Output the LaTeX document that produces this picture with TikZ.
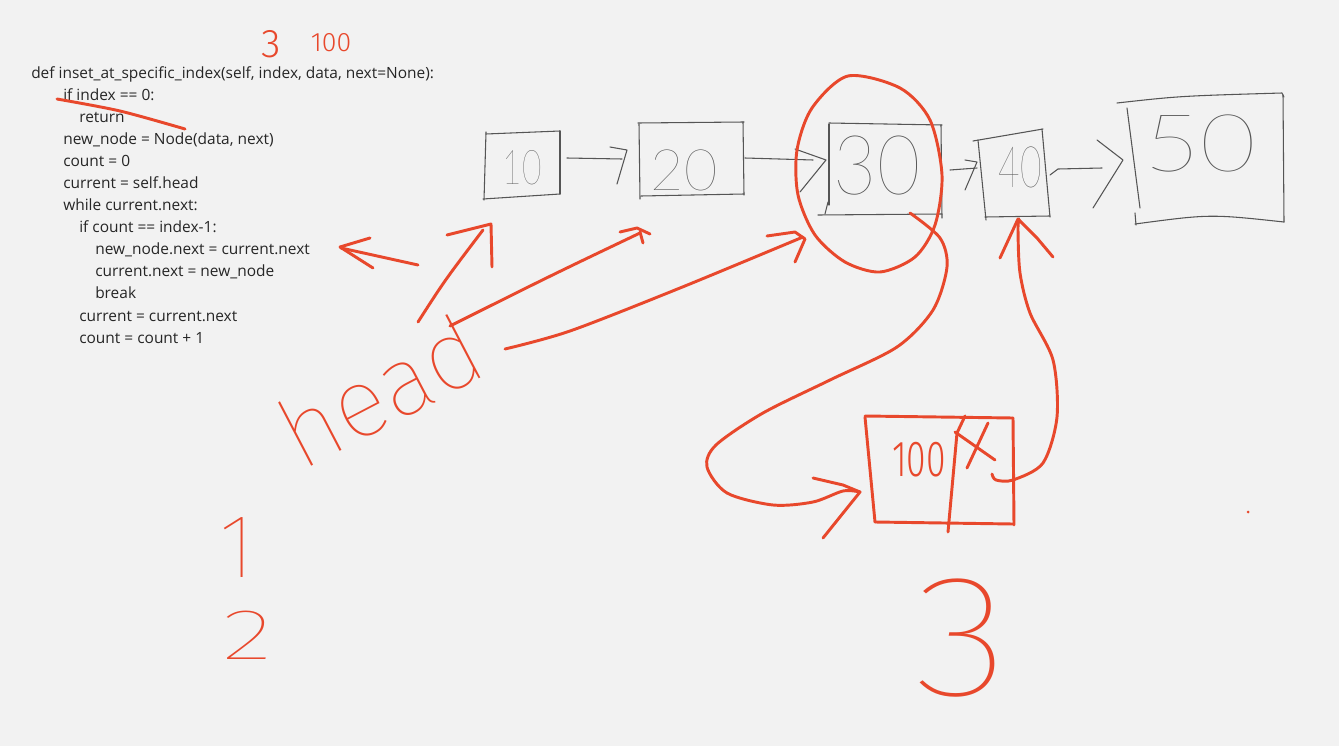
\documentclass[tikz,border=0pt]{standalone}
\usepackage{graphicx}
\usepackage{fontspec}
\setmainfont{Open Sans}
\IfFontExistsTF{Fira Sans Hair}{\newfontfamily\fhair{Fira Sans Hair}}{%
 \IfFontExistsTF{Lato Hairline}{\newfontfamily\fhair{Lato Hairline}}{%
  \IfFontExistsTF{Fira Sans Thin}{\newfontfamily\fhair{Fira Sans Thin}}{%
   \IfFontExistsTF{Lato Thin}{\newfontfamily\fhair{Lato Thin}}{%
    \IfFontExistsTF{Lato Light}{\newfontfamily\fhair{Lato Light}}{%
     \newfontfamily\fhair{Fira Sans}}}}}}
\IfFontExistsTF{Fira Sans Thin}{\newfontfamily\fthin{Fira Sans Thin}}{%
 \IfFontExistsTF{Lato Thin}{\newfontfamily\fthin{Lato Thin}}{%
  \IfFontExistsTF{Lato Hairline}{\newfontfamily\fthin{Lato Hairline}}{%
   \IfFontExistsTF{Lato Light}{\newfontfamily\fthin{Lato Light}}{%
    \newfontfamily\fthin{Fira Sans}}}}}
\IfFontExistsTF{Fira Sans Light}{\newfontfamily\flight{Fira Sans Light}}{%
 \IfFontExistsTF{Lato Light}{\newfontfamily\flight{Lato Light}}{%
  \newfontfamily\flight{Fira Sans}}}
\definecolor{pen}{HTML}{E8482C}
\definecolor{pencil}{HTML}{555555}
\definecolor{bgpaper}{HTML}{F2F2F2}
\definecolor{ink}{HTML}{262626}
\tikzset{
  redstroke/.style={draw=pen, line width=2.2pt, line cap=round, line join=round},
  graystroke/.style={draw=pencil, line width=0.8pt, line cap=round, line join=round},
  codeline/.style={anchor=base west, inner sep=0pt, text=ink, font=\fontsize{11.6}{13}\selectfont},
  graytext/.style={inner sep=0pt, text=pencil},
  redtext/.style={inner sep=0pt, text=pen}
}
\begin{document}
\begin{tikzpicture}[x=0.75pt,y=-0.75pt]
\fill[bgpaper] (0,0) rectangle (1339,746);
\useasboundingbox (0,0) rectangle (1339,746);

% code
\node[codeline] (c1)  at (31,78)  {def inset\_at\_specific\_index(self, index, data, next=None):};
\node[codeline] (c2)  at (63,100) {if index == 0:};
\node[codeline] (c3)  at (79,122) {return};
\node[codeline] (c4)  at (63,144) {new\_node = Node(data, next)};
\node[codeline] (c5)  at (63,166) {count = 0};
\node[codeline] (c6)  at (63,188) {current = self.head};
\node[codeline] (c7)  at (63,210) {while current.next:};
\node[codeline] (c8)  at (79,232) {if count == index-1:};
\node[codeline] (c9)  at (95,254) {new\_node.next = current.next};
\node[codeline] (c10) at (95,276) {current.next = new\_node};
\node[codeline] (c11) at (95,298) {break};
\node[codeline] (c12) at (79,321) {current = current.next};
\node[codeline] (c13) at (79,343) {count = count + 1};

% gray boxes
\draw[graystroke] (486,134) -- (560,131);
\draw[graystroke] (486,132) -- (484,200);
\draw[graystroke] (560,131) -- (560,194);
\draw[graystroke] (483,199) -- (560,194);

\draw[graystroke] (638,123) -- (744,122);
\draw[graystroke] (639,124) -- (640,199);
\draw[graystroke] (743,122) -- (744,195);
\draw[graystroke] (641,196) -- (744,194);

\draw[graystroke] (829,123) -- (942,125);
\draw[graystroke] (829,124) -- (829,205);
\draw[graystroke] (828,202) -- (825,214);
\draw[graystroke] (941,125) -- (942,218);
\draw[graystroke] (818,215) -- (942,214);

\draw[graystroke] (973,141) -- (1043,129);
\draw[graystroke] (978,140) -- (986,220);
\draw[graystroke] (1042,129) -- (1050,217);
\draw[graystroke] (985,217) -- (1050,216);

\draw[graystroke] (1117,103) .. controls (1180,96) .. (1282,93) -- (1284,97);
\draw[graystroke] (1283,95) -- (1284,222);
\draw[graystroke] (1135,224) .. controls (1210,214) .. (1284,222);
\draw[graystroke] (1127,108) -- (1140,208);
\draw[graystroke] (1135,213) -- (1136,225);

% gray arrows
\draw[graystroke] (567,158) -- (622,159);
\draw[graystroke] (610,147) -- (627,150) -- (617,184);
\draw[graystroke] (745,158) -- (813,160);
\draw[graystroke] (795,149) -- (826,160) -- (800,192);
\draw[graystroke] (950,170) -- (977,168);
\draw[graystroke] (965,160) -- (977,162) -- (965,190);
\draw[graystroke] (1050,175) -- (1058,169) -- (1102,168);
\draw[graystroke] (1097,140) -- (1123,160) -- (1093,208);

% gray handwritten values
\node[graytext, font=\fhair\fontsize{36}{40}\selectfont] (v10) at (522,168) {\scalebox{0.7}[1]{10}};
\node[graytext, font=\fhair\fontsize{43}{50}\selectfont] (v20) at (684,170) {20};
\node[graytext, font=\fhair\fontsize{62}{70}\selectfont] (v30) at (877,166) {\scalebox{0.9}[1]{30}};
\node[graytext, font=\fhair\fontsize{43}{50}\selectfont] (v40) at (1020,167) {\scalebox{0.65}[1]{40}};
\node[graytext, font=\fhair\fontsize{60}{70}\selectfont] (v50) at (1200,143) {\scalebox{1.2}[1]{50}};

% red annotations
\node[redtext, font=\flight\fontsize{30}{34}\selectfont] (n3) at (271,44) {3};
\node[redtext, font=\flight\fontsize{20}{24}\selectfont] (n100) at (331,43) {100};
\draw[redstroke] plot[smooth] coordinates {(57,99) (120,111) (185,129)};

% circle around 30
\draw[redstroke] plot[smooth cycle] coordinates {(848,76) (900,88) (930,120) (942,175) (935,225) (915,257) (880,272) (845,262) (815,235) (798,195) (797,150) (812,108)};

% head
\node[redtext, font=\fthin\fontsize{73}{80}\selectfont, anchor=base, rotate=27.6] (head) at (396,422) {head};

% arrow to code
\draw[redstroke] (418,265) .. controls (380,256) .. (341,248);
\draw[redstroke] (370,238) -- (340,247) -- (373,268);
% arrow to 10
\draw[redstroke] (418,322) .. controls (445,280) .. (483,230);
\draw[redstroke] (447,235) -- (491,224) -- (492,267);
% arrow to 20
\draw[redstroke] (450,326) .. controls (552,275) .. (640,233);
\draw[redstroke] (620,232) -- (637,228) -- (650,234);
\draw[redstroke] (640,232) -- (643,243);
% arrow to 30
\draw[redstroke] plot[smooth] coordinates {(505,349) (570,331) (680,288) (803,237)};
\draw[redstroke] (767,236) -- (795,232) -- (805,239) -- (795,262);

% S-curve to new node
\draw[redstroke] plot[smooth] coordinates {(910,213) (940,238) (947,267) (933,310) (897,347) (830,380) (763,413) (716,445) (707,467) (727,493) (773,505) (813,502) (843,491) (860,492)};
\draw[redstroke] (813,478) -- (843,485) -- (860,492) -- (823,538);

% new node box
\draw[redstroke] (865,416) -- (1013,418);
\draw[redstroke] (865,417) -- (875,522);
\draw[redstroke] (875,522) -- (1013,524);
\draw[redstroke] (1013,418) -- (1014,525);
\draw[redstroke] (965,416) -- (957,433) -- (948,532);
\node[redtext, font=\flight\fontsize{38}{44}\selectfont] (v100) at (919,460) {\scalebox{0.7}[1]{100}};
\draw[redstroke] (955,432) -- (995,460);
\draw[redstroke] (988,423) -- (967,468);

% arrow from new node to 40
\draw[redstroke] plot[smooth] coordinates {(992,474) (996,480) (1013,480) (1043,463) (1057,417) (1053,360) (1030,313) (1020,273) (1018,230) (1019,219)};
\draw[redstroke] (1000,258) -- (1018,219) -- (1037,238) -- (1053,257);

% step numbers
\node[redtext, font=\fthin\fontsize{68}{76}\selectfont] (s1) at (237,548) {1};
\node[redtext, font=\fthin\fontsize{54}{60}\selectfont] (s2) at (248,635) {\scalebox{1.5}[1]{2}};
\node[redtext, font=\fthin\fontsize{130}{140}\selectfont] (s3) at (962,638) {\scalebox{1.15}[1]{3}};

\fill[pen] (1248,512) circle [radius=1.5];
\end{tikzpicture}
\end{document}
